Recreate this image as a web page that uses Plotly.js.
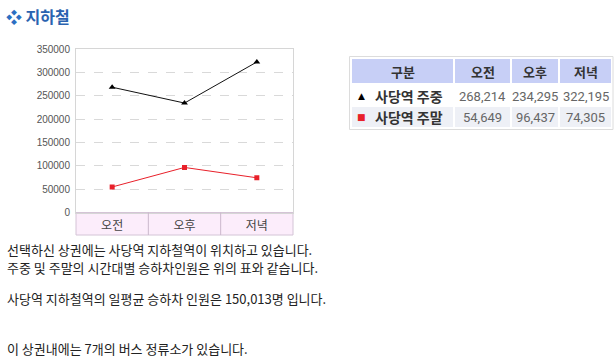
<!DOCTYPE html>
<html><head><meta charset="utf-8">
<script src="https://cdn.plot.ly/plotly-3.0.1.min.js"></script>
<style>html,body{margin:0;padding:0;background:#fff;}</style>
</head><body><div id="chart" style="width:614px;height:362px;"></div>
<script>
const categories = ['오전', '오후', '저녁'];
const seriesNames = ['사당역 주중', '사당역 주말'];
const weekday = [268214, 234295, 322195];
const weekend = [54649, 96437, 74305];
const headerLabels = ['구분', '오전', '오후', '저녁'];
const yTicks = [0, 50000, 100000, 150000, 200000, 250000, 300000, 350000];
const pageTitle = '지하철';
const bodyLines = [
  '선택하신 상권에는 사당역 지하철역이 위치하고 있습니다.',
  '주중 및 주말의 시간대별 승하차인원은 위의 표와 같습니다.',
  '사당역 지하철역의 일평균 승하차 인원은 150,013명 입니다.',
  '이 상권내에는 7개의 버스 정류소가 있습니다.'
];

const W = 614, H = 362;
const px = v => v / W, py = v => 1 - v / H;
const FONT = '"Noto Sans CJK KR", "Noto Sans", sans-serif';
const NUMFONT = 'Roboto, "Liberation Sans", sans-serif';
const fmt = v => v.toLocaleString('en-US');
const seriesColors = ['#000000', '#e8202a'];
const seriesSymbols = ['▲', '■'];

const traces = [
  {x: categories, y: weekday, name: seriesNames[0], type: 'scatter', mode: 'lines+markers',
   line: {color: '#111', width: 1}, marker: {symbol: 'triangle-up', size: 6, color: '#000'},
   hoverinfo: 'none'},
  {x: categories, y: weekend, name: seriesNames[1], type: 'scatter', mode: 'lines+markers',
   line: {color: '#e8202a', width: 1}, marker: {symbol: 'square', size: 5, color: '#e8202a'},
   hoverinfo: 'none'}
];

const annotations = [
  {xref: 'paper', yref: 'paper', x: px(4), y: py(16), xanchor: 'left', yanchor: 'middle',
   text: '<span style="color:#2c6fc2">❖</span> <b>' + pageTitle + '</b>', showarrow: false,
   font: {family: FONT, size: 16, color: '#2a63b0'}}
];
const lineY = [249.5, 267.5, 298, 348];
bodyLines.forEach((t, i) => annotations.push({xref: 'paper', yref: 'paper', x: px(6), y: py(lineY[i]),
  xanchor: 'left', yanchor: 'middle', text: t, showarrow: false, borderpad: 0,
  font: {family: FONT, size: 13, color: '#222'}}));

const shapes = [
  {type: 'rect', xref: 'paper', yref: 'paper', x0: px(76), x1: px(293), y0: py(235), y1: py(212.5),
   fillcolor: '#fcedfb', line: {color: '#d4c4d6', width: 1}, layer: 'below'},
  {type: 'line', xref: 'x', yref: 'paper', x0: 0.5, x1: 0.5, y0: py(235), y1: py(212.5), line: {color: '#cbb8cc', width: 1}},
  {type: 'line', xref: 'x', yref: 'paper', x0: 1.5, x1: 1.5, y0: py(235), y1: py(212.5), line: {color: '#cbb8cc', width: 1}},
  {type: 'rect', xref: 'paper', yref: 'paper', x0: px(349.5), x1: px(613), y0: py(129.5), y1: py(56.5),
   line: {color: '#dcdcdc', width: 1}, fillcolor: 'rgba(0,0,0,0)'}
];

// table layout (cells)
const colX = [[352, 453], [455, 510], [512, 558], [560, 611]];
const rowY = [[59, 83], [85, 106], [107, 127]];
const rowFill = ['#c7cff6', '#ffffff', '#eef0f6'];
rowY.forEach((r, ri) => colX.forEach(c => shapes.push({type: 'rect', xref: 'paper', yref: 'paper',
  x0: px(c[0]), x1: px(c[1]), y0: py(r[1]), y1: py(r[0]), fillcolor: rowFill[ri], line: {width: 0}, layer: 'below'})));
const cx = c => px((c[0] + c[1]) / 2), cy = r => py((r[0] + r[1]) / 2 + 0.5);
headerLabels.forEach((h, i) => annotations.push({xref: 'paper', yref: 'paper', x: cx(colX[i]), y: cy(rowY[0]),
  text: '<b>' + h + '</b>', showarrow: false, xanchor: 'center', yanchor: 'middle',
  font: {family: FONT, size: 13, color: '#333'}}));
const rows = [weekday, weekend];
rows.forEach((vals, ri) => {
  const r = rowY[ri + 1];
  annotations.push({xref: 'paper', yref: 'paper', x: px(361), y: cy(r), text: seriesSymbols[ri],
    showarrow: false, xanchor: 'center', yanchor: 'middle', font: {family: 'DejaVu Sans', size: 9, color: seriesColors[ri]}});
  annotations.push({xref: 'paper', yref: 'paper', x: px(373), y: cy(r), text: '<b>' + seriesNames[ri] + '</b>',
    showarrow: false, xanchor: 'left', yanchor: 'middle', font: {family: FONT, size: 14, color: '#333'}});
  vals.forEach((v, ci) => annotations.push({xref: 'paper', yref: 'paper', x: cx(colX[ci + 1]), y: cy(r),
    text: fmt(v), showarrow: false, xanchor: 'center', yanchor: 'middle',
    font: {family: NUMFONT, size: 13, color: '#666'}}));
});

const layout = {
  width: W, height: H, margin: {l: 0, r: 0, t: 0, b: 0},
  paper_bgcolor: '#fff', plot_bgcolor: '#fff', showlegend: false,
  font: {family: FONT},
  xaxis: {domain: [px(76), px(293)], range: [-0.5, 2.5], type: 'category', showgrid: false,
    showline: true, mirror: true, linecolor: '#d6d6d6', ticks: '', zeroline: false,
    tickfont: {family: FONT, size: 12, color: '#444'}, ticklabelstandoff: 2, automargin: false, fixedrange: true},
  yaxis: {domain: [py(212.5), py(49)], range: [0, 350000], tickvals: yTicks, tickformat: 'd',
    showgrid: true, gridcolor: '#d9d9d9', griddash: 'dash', zeroline: false,
    showline: true, mirror: true, linecolor: '#d6d6d6', ticks: '',
    tickfont: {family: 'Arial, "Liberation Sans", sans-serif', size: 10, color: '#555'},
    ticklabelstandoff: 3, automargin: false, fixedrange: true},
  annotations: annotations, shapes: shapes
};

Plotly.newPlot('chart', traces, layout, {staticPlot: true, displayModeBar: false});
</script></body></html>
